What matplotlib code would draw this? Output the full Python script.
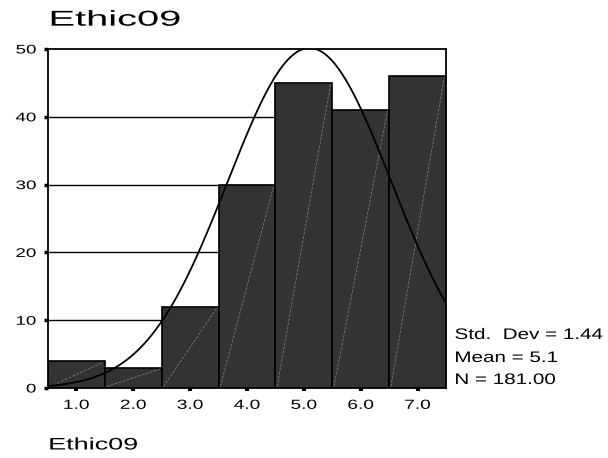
import matplotlib.pyplot as plt
import numpy as np
from matplotlib.patheffects import AbstractPathEffect
from matplotlib.transforms import Affine2D

plt.rcParams['font.family'] = ['Liberation Sans', 'DejaVu Sans']

# Ethic09 frequency table
values = [1.0, 2.0, 3.0, 4.0, 5.0, 6.0, 7.0]
counts = [4, 3, 12, 30, 45, 41, 46]
tick_labels = ["1.0", "2.0", "3.0", "4.0", "5.0", "6.0", "7.0"]
y_ticks = [0, 10, 20, 30, 40, 50]
std_dev = 1.44
mean = 5.1
n_total = 181.00


class Widen(AbstractPathEffect):
    """Stretch glyphs horizontally about the left, centre or right edge."""

    def __init__(self, sx, anchor="left"):
        super().__init__()
        self.sx = sx
        self.anchor = anchor

    def draw_path(self, renderer, gc, tpath, affine, rgbFace=None):
        ext = tpath.get_extents(affine)
        x0 = {"left": ext.x0, "center": 0.5 * (ext.x0 + ext.x1), "right": ext.x1}[self.anchor]
        t = affine + Affine2D().translate(-x0, 0).scale(self.sx, 1).translate(x0, 0)
        renderer.draw_path(gc, tpath, t, rgbFace)


fig = plt.figure(figsize=(6.08, 4.58), dpi=100)
ax = fig.add_axes([0.0789, 0.1528, 0.6546, 0.7402])

# gridlines sit behind the bars
for y in y_ticks[1:-1]:
    ax.axhline(y, color="black", lw=1.0, zorder=1)

bars = ax.bar(values, counts, width=1.0, color="#333333",
              edgecolor="black", linewidth=1.2, zorder=2)

# faint diagonal stroke inside each bar
for b in bars:
    x0 = b.get_x()
    ax.plot([x0 + 0.03, x0 + b.get_width() - 0.03], [0.2, b.get_height() - 0.2],
            color="#888888", lw=0.5, ls=(0, (4, 2)), zorder=3)

# fitted normal curve
xs = np.linspace(0.5, 7.5, 300)
ys = n_total * 1.0 / (std_dev * np.sqrt(2 * np.pi)) * np.exp(-0.5 * ((xs - mean) / std_dev) ** 2)
ax.plot(xs, ys, color="black", lw=1.3, zorder=4)

ax.set_xlim(0.5, 7.5)
ax.set_ylim(0, 50)
ax.set_xticks(values)
ax.set_xticklabels(tick_labels)
ax.set_yticks(y_ticks)
ax.tick_params(axis="x", labelsize=9.5, length=2, width=3, direction="out", pad=6.5)
ax.tick_params(axis="y", labelsize=9, length=3, width=2.5, direction="out", pad=5.5)
for lab in ax.get_xticklabels():
    lab.set_path_effects([Widen(1.45, "center")])
for lab in ax.get_yticklabels():
    lab.set_path_effects([Widen(1.5, "right")])
for s in ax.spines.values():
    s.set_linewidth(1.3)

t = fig.text(0.0822, 0.956, "Ethic09", fontsize=15.5, ha="left", va="center")
t.set_path_effects([Widen(1.85)])
t = fig.text(0.0806, 0.0284, "Ethic09", fontsize=12, ha="left", va="center")
t.set_path_effects([Widen(1.62)])

stats = ["Std.  Dev = %.2f" % std_dev, "Mean = %.1f" % mean, "N = %.2f" % n_total]
for txt, yy in zip(stats, [0.2686, 0.2183, 0.1703]):
    t = fig.text(0.748, yy, txt, fontsize=11, ha="left", va="center")
    t.set_path_effects([Widen(1.35)])

plt.savefig("out.png", dpi=100)
